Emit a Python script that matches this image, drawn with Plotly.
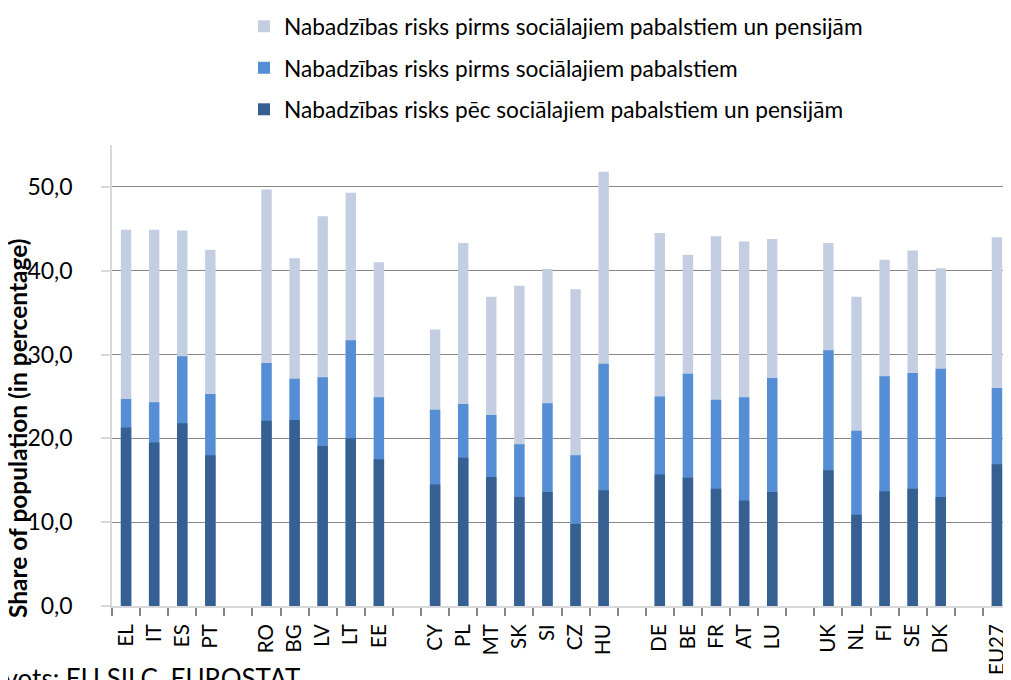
import plotly.graph_objects as go

# country codes, grouped as in the source chart (gaps between groups)
countries = ["EL", "IT", "ES", "PT",
             "RO", "BG", "LV", "LT", "EE",
             "CY", "PL", "MT", "SK", "SI", "CZ", "HU",
             "DE", "BE", "FR", "AT", "LU",
             "UK", "NL", "FI", "SE", "DK",
             "EU27"]
group_sizes = [4, 5, 7, 5, 5, 1]

# at-risk-of-poverty rate before social transfers and pensions
before_all = [44.9, 44.9, 44.8, 42.5,
              49.7, 41.5, 46.5, 49.3, 41.0,
              33.0, 43.3, 36.9, 38.2, 40.2, 37.8, 51.8,
              44.5, 41.9, 44.1, 43.5, 43.8,
              43.3, 36.9, 41.3, 42.4, 40.3,
              44.0]
# before social transfers (pensions included)
before_social = [24.7, 24.3, 29.8, 25.3,
                 29.0, 27.1, 27.3, 31.7, 24.9,
                 23.4, 24.1, 22.8, 19.3, 24.2, 18.0, 28.9,
                 25.0, 27.7, 24.6, 24.9, 27.2,
                 30.5, 20.9, 27.4, 27.8, 28.3,
                 26.0]
# after social transfers and pensions
after_all = [21.3, 19.5, 21.8, 18.0,
             22.1, 22.2, 19.1, 20.0, 17.5,
             14.5, 17.7, 15.4, 13.0, 13.6, 9.8, 13.8,
             15.7, 15.3, 14.0, 12.6, 13.6,
             16.2, 10.9, 13.7, 14.0, 13.0,
             16.9]

series = [
    ("Nabadzības risks pirms sociālajiem pabalstiem un pensijām", before_all, "#C4CEE2"),
    ("Nabadzības risks pirms sociālajiem pabalstiem", before_social, "#558ED5"),
    ("Nabadzības risks pēc sociālajiem pabalstiem un pensijām", after_all, "#376092"),
]

# insert empty categories between the groups
cats = []
idx = []
pos = 0
gap_no = 0
for g, size in enumerate(group_sizes):
    for _ in range(size):
        cats.append(countries[pos])
        idx.append(pos)
        pos += 1
    if g < len(group_sizes) - 1:
        gap_no += 1
        cats.append(" " * gap_no)
        idx.append(None)

FONT = "Lato"
W, H = 1003, 672          # page body has an 8px margin
L, T, B = 104, 137, 74
PW, PH = W - L, H - T - B


def px_x(x):
    return (x - L) / PW


def px_y(y):
    return (H - B - y) / PH


fig = go.Figure()
for i, (name, vals, color) in enumerate(series):
    y = [vals[k] if k is not None else None for k in idx]
    fig.add_trace(go.Bar(
        x=cats, y=y, name=name, legendgroup=str(i),
        marker=dict(color=color, line=dict(width=0)),
        width=0.37,
    ))

fig.update_layout(
    barmode="overlay",
    width=W, height=H,
    margin=dict(l=L, r=0, t=T, b=B, autoexpand=False),
    plot_bgcolor="white", paper_bgcolor="white",
    separators=", ",
    font=dict(family=FONT, color="#000000"),
    legend=dict(
        x=px_x(236), y=px_y(-3),
        xanchor="left", yanchor="top",
        orientation="v", traceorder="grouped", tracegroupgap=9,
        font=dict(size=22.7, family=FONT), itemwidth=30,
        bgcolor="rgba(0,0,0,0)",
    ),
    showlegend=True,
)

fig.update_xaxes(
    type="category", categoryorder="array", categoryarray=cats,
    tickmode="linear", dtick=1,
    tickson="boundaries", ticks="outside", ticklen=8, tickwidth=1.5,
    tickcolor="#868686", tickangle=-90, ticklabelstandoff=8,
    tickfont=dict(size=20.5, family=FONT),
    showline=True, linecolor="#D9D9D9", linewidth=2,
    showgrid=False, range=[-0.5, len(cats) - 0.5],
)
fig.update_yaxes(
    range=[0, 55], dtick=10, tick0=0, tickformat=".1f",
    ticks="outside", ticklen=9, tickwidth=1.5, tickcolor="#D9D9D9",
    ticklabelstandoff=24,
    tickfont=dict(size=23, family=FONT),
    showline=True, linecolor="#D9D9D9", linewidth=1.5,
    showgrid=True, gridcolor="#888888", gridwidth=1.3,
    zeroline=False,
)

# y axis title, placed like in the original (below the plot centre)
fig.add_annotation(
    text="<b>Share of population (in percentage)</b>",
    xref="paper", yref="paper",
    x=px_x(10), y=px_y(421),
    textangle=-90, showarrow=False,
    font=dict(size=24.5, family=FONT),
    xanchor="center", yanchor="middle",
)

# source line, partly cut off at the bottom
fig.add_annotation(
    text="Avots: EU SILC, EUROSTAT",
    xref="paper", yref="paper",
    x=px_x(-22), y=px_y(652),
    showarrow=False, xanchor="left", yanchor="top",
    font=dict(size=26, family=FONT),
)

fig.write_html("out.html")
